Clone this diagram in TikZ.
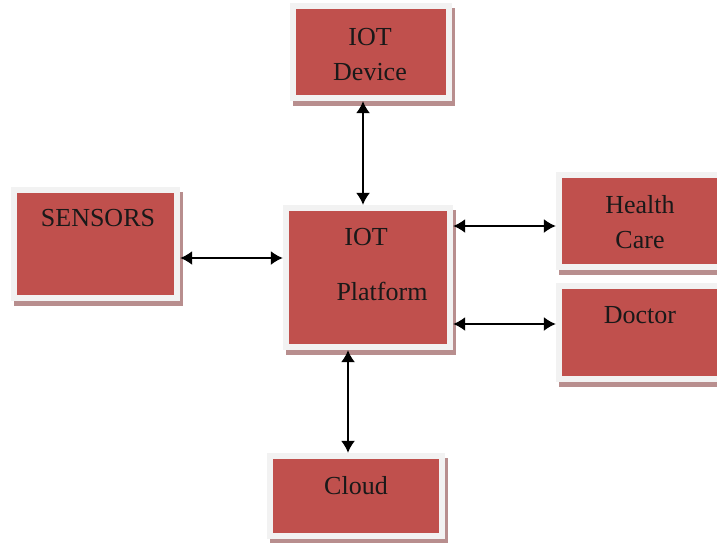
\documentclass[tikz,border=0pt]{standalone}
\usepackage{fontspec}
\setmainfont{Liberation Serif}
\usetikzlibrary{arrows.meta,shadows}
\definecolor{boxred}{HTML}{C0504D}
\definecolor{boxframe}{HTML}{F2F2F2}
\definecolor{boxshadow}{HTML}{B88E8E}

\begin{document}
\begin{tikzpicture}[x=1pt,y=-1pt,
  box/.style={
    fill=boxframe, inner sep=0pt,
    drop shadow={shadow xshift=3pt, shadow yshift=-5pt, fill=boxshadow, opacity=1},
    path picture={
      \fill[boxred] ([shift={(6pt,6pt)}]path picture bounding box.south west)
        rectangle ([shift={(-6pt,-6pt)}]path picture bounding box.north east);
    },
  },
  lbl/.style={
    font=\fontsize{26}{35}\selectfont, inner sep=0pt, align=center, text=black!90,
  },
  conn/.style={
    {Latex[length=12pt,width=14pt]}-{Latex[length=12pt,width=14pt]}, line width=1.6pt,
  },
]
  \useasboundingbox (0,0) rectangle (717,543);

  % --- blocks ---
  \node[box, minimum width=162pt, minimum height=98pt]  (dev)    at (371,52)     {};
  \node[box, minimum width=169pt, minimum height=114pt] (sens)   at (95.5,244)   {};
  \node[box, minimum width=170pt, minimum height=145pt] (plat)   at (368,277.5)  {};
  \node[box, minimum width=179pt, minimum height=98pt]  (health) at (645.5,221)  {};
  \node[box, minimum width=179pt, minimum height=99pt]  (doc)    at (645.5,332.5) {};
  \node[box, minimum width=178pt, minimum height=86pt]  (cloud)  at (356,496)    {};

  % --- texts ---
  \node[lbl] (dev-t)    at (370,55)    {IOT\\Device};
  \node[lbl, anchor=base] (sens-t)   at (98,226)  {SENSORS};
  \node[lbl, anchor=base] (plat-t1)  at (366,245) {IOT};
  \node[lbl, anchor=base] (plat-t2)  at (382,300) {Platform};
  \node[lbl] (health-t) at (640,222.5) {Health\\Care};
  \node[lbl, anchor=base] (doc-t)    at (640,323) {Doctor};
  \node[lbl, anchor=base] (cloud-t)  at (356,494) {Cloud};

  % --- links ---
  \draw[conn] ([xshift=-8pt]dev.south) -- ([xshift=-8pt]dev.south |- plat.north);
  \draw[conn] ([yshift=-14pt]sens.east) -- ([yshift=-14pt]sens.east -| plat.west);
  \draw[conn] ([yshift=-5pt]health.west -| plat.east) -- ([yshift=-5pt]health.west);
  \draw[conn] ([yshift=8.5pt]doc.west -| plat.east) -- ([yshift=8.5pt]doc.west);
  \draw[conn] ([xshift=-8pt]cloud.north |- plat.south) -- ([xshift=-8pt]cloud.north);
\end{tikzpicture}
\end{document}
